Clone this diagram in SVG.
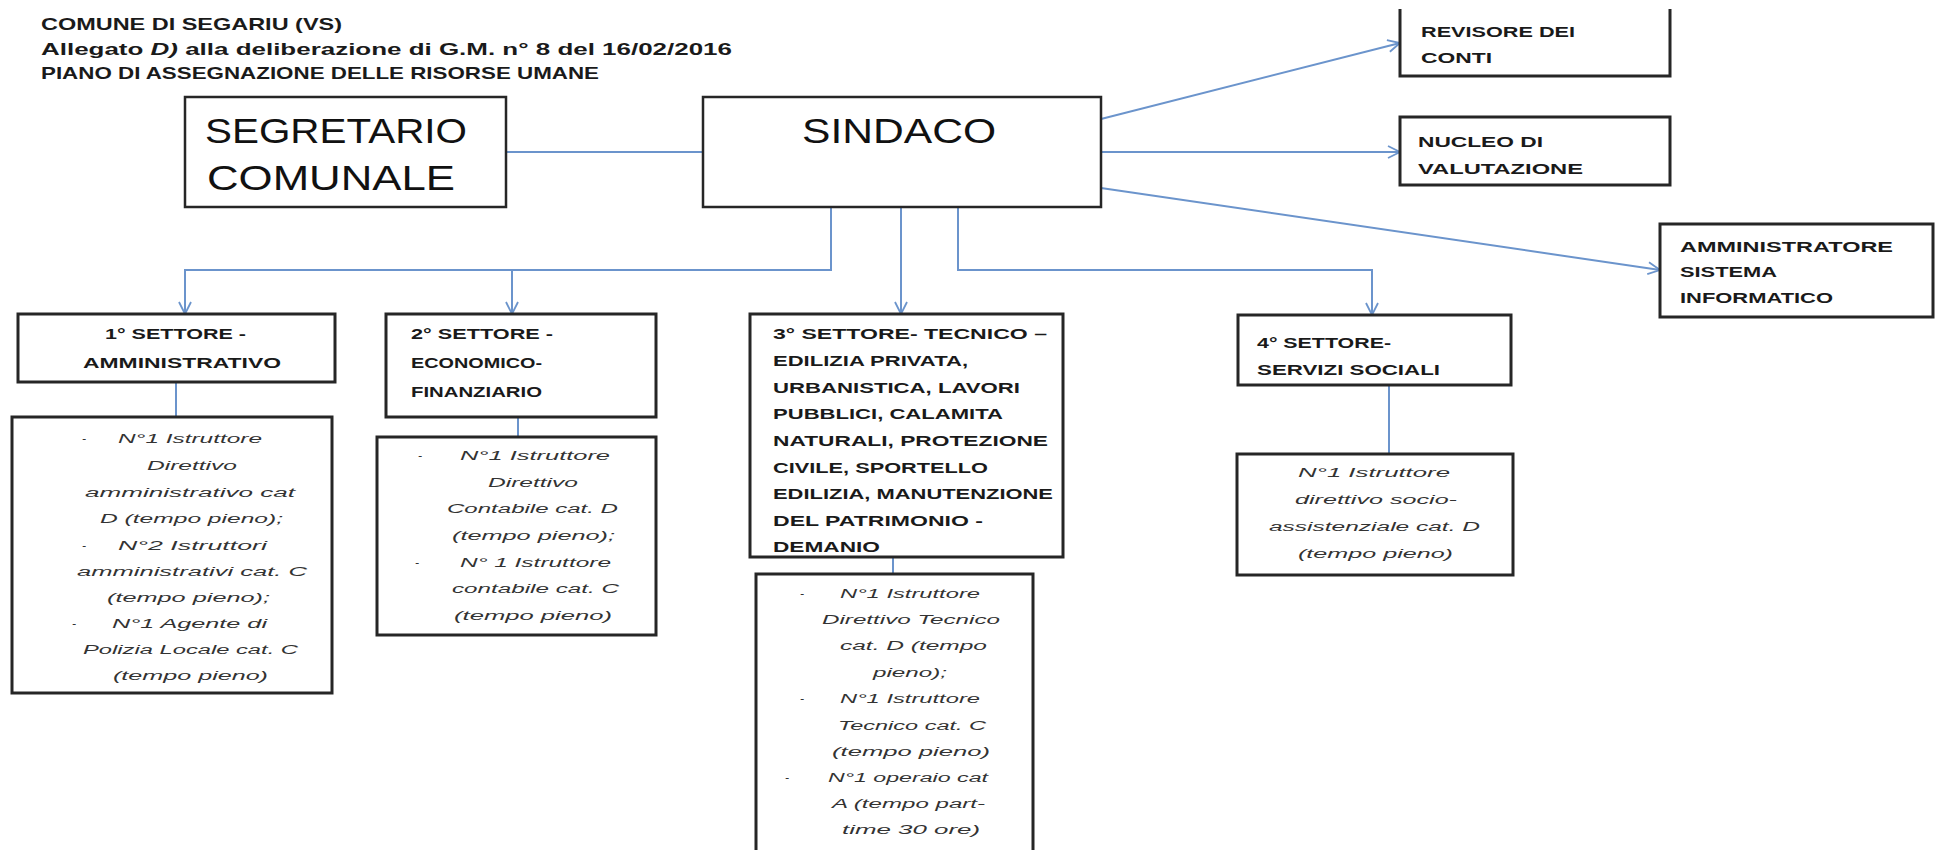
<svg xmlns="http://www.w3.org/2000/svg" width="1937" height="850" viewBox="0 0 1937 850">
<defs>
<style>
.box{fill:#fff;stroke:#262626;stroke-width:2.5}
.sbox{fill:#fff;stroke:#262626;stroke-width:3}
.ob{fill:none;stroke:#262626;stroke-width:3}
.con{fill:none;stroke:#6b94cc;stroke-width:2}
.arr{marker-end:url(#ah)}
.title{font-family:"Liberation Sans",Arial,sans-serif;font-weight:bold;font-size:17px;fill:#1a1a1a}
.big{font-family:"Liberation Sans",Arial,sans-serif;font-size:35px;fill:#111}
.lab{font-family:"Liberation Sans",Arial,sans-serif;font-weight:bold;font-size:15px;fill:#1a1a1a}
.lab3{font-family:"Liberation Sans",Arial,sans-serif;font-weight:bold;font-size:14px;fill:#1a1a1a}
.det{font-family:"Liberation Sans",Arial,sans-serif;font-style:italic;font-size:12px;fill:#333}
</style>
<marker id="ah" markerUnits="userSpaceOnUse" markerWidth="14" markerHeight="14" viewBox="0 0 14 14" refX="13" refY="7" orient="auto">
<path d="M1,1 L13,7 L1,13" fill="none" stroke="#6b94cc" stroke-width="1.8"/>
</marker>
</defs>
<rect width="1937" height="850" fill="#fff"/>

<g id="header">
<text class="title" x="41" y="30" textLength="301" lengthAdjust="spacingAndGlyphs">COMUNE DI SEGARIU  (VS)</text>
<text class="title" x="41" y="55" textLength="691" lengthAdjust="spacingAndGlyphs">Allegato <tspan font-style="italic">D)</tspan> alla deliberazione  di G.M. n° 8 del  16/02/2016</text>
<text class="title" x="41" y="79" textLength="558" lengthAdjust="spacingAndGlyphs">PIANO DI ASSEGNAZIONE DELLE RISORSE UMANE</text>
</g>

<g id="connectors">
<path class="con" d="M506,152 H703"/>
<path class="con arr" d="M1101,119 L1400,43"/>
<path class="con arr" d="M1101,152 H1400"/>
<path class="con arr" d="M1101,188 L1660,270"/>
<path class="con arr" d="M831,207 V270 H185 V314"/>
<path class="con arr" d="M512,270 V314"/>
<path class="con arr" d="M901,207 V314"/>
<path class="con arr" d="M958,207 V270 H1372 V315"/>
<path class="con" d="M176,382 V417"/>
<path class="con" d="M518,417 V437"/>
<path class="con" d="M893,557 V574"/>
<path class="con" d="M1389,385 V454"/>
</g>

<g id="segretario">
<rect class="box" x="185" y="97" width="321" height="110"/>
<text class="big" x="205" y="143" textLength="262" lengthAdjust="spacingAndGlyphs">SEGRETARIO</text>
<text class="big" x="207" y="190" textLength="248" lengthAdjust="spacingAndGlyphs">COMUNALE</text>
</g>

<g id="sindaco">
<rect class="box" x="703" y="97" width="398" height="110"/>
<text class="big" x="802" y="143" textLength="194" lengthAdjust="spacingAndGlyphs">SINDACO</text>
</g>

<g id="revisore">
<path class="ob" d="M1400,9 V76 H1670 V9"/>
<text class="lab" x="1421" y="37" textLength="154" lengthAdjust="spacingAndGlyphs">REVISORE DEI</text>
<text class="lab" x="1421" y="63" textLength="71" lengthAdjust="spacingAndGlyphs">CONTI</text>
</g>

<g id="nucleo">
<rect class="sbox" x="1400" y="117" width="270" height="68"/>
<text class="lab" x="1418" y="147" textLength="125" lengthAdjust="spacingAndGlyphs">NUCLEO DI</text>
<text class="lab" x="1418" y="174" textLength="165" lengthAdjust="spacingAndGlyphs">VALUTAZIONE</text>
</g>

<g id="amministratore">
<rect class="sbox" x="1660" y="224" width="273" height="93"/>
<text class="lab" x="1680" y="252" textLength="213" lengthAdjust="spacingAndGlyphs">AMMINISTRATORE</text>
<text class="lab" x="1680" y="277" textLength="97" lengthAdjust="spacingAndGlyphs">SISTEMA</text>
<text class="lab" x="1680" y="303" textLength="153" lengthAdjust="spacingAndGlyphs">INFORMATICO</text>
</g>

<g id="settore1">
<rect class="sbox" x="18" y="314" width="317" height="68"/>
<text class="lab" x="105" y="339" textLength="141" lengthAdjust="spacingAndGlyphs">1° SETTORE  -</text>
<text class="lab" x="83" y="368" textLength="198" lengthAdjust="spacingAndGlyphs">AMMINISTRATIVO</text>
</g>

<g id="settore2">
<rect class="sbox" x="386" y="314" width="270" height="103"/>
<text class="lab" x="411" y="339" textLength="142" lengthAdjust="spacingAndGlyphs">2° SETTORE  -</text>
<text class="lab" x="411" y="368" textLength="131" lengthAdjust="spacingAndGlyphs">ECONOMICO-</text>
<text class="lab" x="411" y="397" textLength="131" lengthAdjust="spacingAndGlyphs">FINANZIARIO</text>
</g>

<g id="settore3">
<rect class="sbox" x="750" y="314" width="313" height="243"/>
<text class="lab3" x="773" y="339" textLength="274" lengthAdjust="spacingAndGlyphs">3° SETTORE-   TECNICO –</text>
<text class="lab3" x="773" y="366" textLength="195" lengthAdjust="spacingAndGlyphs">EDILIZIA PRIVATA,</text>
<text class="lab3" x="773" y="393" textLength="247" lengthAdjust="spacingAndGlyphs">URBANISTICA, LAVORI</text>
<text class="lab3" x="773" y="419" textLength="230" lengthAdjust="spacingAndGlyphs">PUBBLICI, CALAMITA</text>
<text class="lab3" x="773" y="446" textLength="275" lengthAdjust="spacingAndGlyphs">NATURALI, PROTEZIONE</text>
<text class="lab3" x="773" y="473" textLength="215" lengthAdjust="spacingAndGlyphs">CIVILE, SPORTELLO</text>
<text class="lab3" x="773" y="499" textLength="280" lengthAdjust="spacingAndGlyphs">EDILIZIA, MANUTENZIONE</text>
<text class="lab3" x="773" y="526" textLength="210" lengthAdjust="spacingAndGlyphs">DEL PATRIMONIO  -</text>
<text class="lab3" x="773" y="552" textLength="107" lengthAdjust="spacingAndGlyphs">DEMANIO</text>
</g>

<g id="settore4">
<rect class="sbox" x="1238" y="315" width="273" height="70"/>
<text class="lab" x="1257" y="348" textLength="134" lengthAdjust="spacingAndGlyphs">4° SETTORE-</text>
<text class="lab" x="1257" y="375" textLength="183" lengthAdjust="spacingAndGlyphs">SERVIZI SOCIALI</text>
</g>

<g id="personale1">
<rect class="sbox" x="12" y="417" width="320" height="276"/>
<text class="det" x="82" y="443">-</text>
<text class="det" x="118" y="443" textLength="144" lengthAdjust="spacingAndGlyphs">N°1 Istruttore</text>
<text class="det" x="147" y="470" textLength="90" lengthAdjust="spacingAndGlyphs">Direttivo</text>
<text class="det" x="85" y="497" textLength="210" lengthAdjust="spacingAndGlyphs">amministrativo cat</text>
<text class="det" x="100" y="523" textLength="183" lengthAdjust="spacingAndGlyphs">D (tempo pieno);</text>
<text class="det" x="82" y="550">-</text>
<text class="det" x="118" y="550" textLength="149" lengthAdjust="spacingAndGlyphs">N°2 Istruttori</text>
<text class="det" x="77" y="576" textLength="230" lengthAdjust="spacingAndGlyphs">amministrativi  cat. C</text>
<text class="det" x="107" y="602" textLength="163" lengthAdjust="spacingAndGlyphs">(tempo pieno);</text>
<text class="det" x="72" y="628">-</text>
<text class="det" x="112" y="628" textLength="155" lengthAdjust="spacingAndGlyphs">N°1 Agente di</text>
<text class="det" x="83" y="654" textLength="215" lengthAdjust="spacingAndGlyphs">Polizia Locale cat. C</text>
<text class="det" x="113" y="680" textLength="155" lengthAdjust="spacingAndGlyphs">(tempo pieno)</text>
</g>

<g id="personale2">
<rect class="sbox" x="377" y="437" width="279" height="198"/>
<text class="det" x="418" y="460">-</text>
<text class="det" x="460" y="460" textLength="150" lengthAdjust="spacingAndGlyphs">N°1 Istruttore</text>
<text class="det" x="488" y="487" textLength="90" lengthAdjust="spacingAndGlyphs">Direttivo</text>
<text class="det" x="447" y="513" textLength="171" lengthAdjust="spacingAndGlyphs">Contabile cat. D</text>
<text class="det" x="452" y="540" textLength="163" lengthAdjust="spacingAndGlyphs">(tempo pieno);</text>
<text class="det" x="415" y="567">-</text>
<text class="det" x="460" y="567" textLength="151" lengthAdjust="spacingAndGlyphs">N° 1 Istruttore</text>
<text class="det" x="452" y="593" textLength="167" lengthAdjust="spacingAndGlyphs">contabile cat. C</text>
<text class="det" x="454" y="620" textLength="158" lengthAdjust="spacingAndGlyphs">(tempo pieno)</text>
</g>

<g id="personale3">
<path class="ob" d="M756,852 V574 H1033 V852" fill="#fff"/>
<text class="det" x="800" y="598">-</text>
<text class="det" x="840" y="598" textLength="140" lengthAdjust="spacingAndGlyphs">N°1 Istruttore</text>
<text class="det" x="822" y="624" textLength="178" lengthAdjust="spacingAndGlyphs">Direttivo Tecnico</text>
<text class="det" x="840" y="650" textLength="147" lengthAdjust="spacingAndGlyphs">cat. D (tempo</text>
<text class="det" x="873" y="677" textLength="74" lengthAdjust="spacingAndGlyphs">pieno);</text>
<text class="det" x="800" y="703">-</text>
<text class="det" x="840" y="703" textLength="140" lengthAdjust="spacingAndGlyphs">N°1 Istruttore</text>
<text class="det" x="838" y="730" textLength="148" lengthAdjust="spacingAndGlyphs">Tecnico cat. C</text>
<text class="det" x="832" y="756" textLength="158" lengthAdjust="spacingAndGlyphs">(tempo pieno)</text>
<text class="det" x="785" y="782">-</text>
<text class="det" x="828" y="782" textLength="160" lengthAdjust="spacingAndGlyphs">N°1 operaio cat</text>
<text class="det" x="832" y="808" textLength="153" lengthAdjust="spacingAndGlyphs">A (tempo part-</text>
<text class="det" x="842" y="834" textLength="138" lengthAdjust="spacingAndGlyphs">time 30 ore)</text>
</g>

<g id="personale4">
<rect class="sbox" x="1237" y="454" width="276" height="121"/>
<text class="det" x="1298" y="477" textLength="152" lengthAdjust="spacingAndGlyphs">N°1 Istruttore</text>
<text class="det" x="1295" y="504" textLength="162" lengthAdjust="spacingAndGlyphs">direttivo socio-</text>
<text class="det" x="1269" y="531" textLength="211" lengthAdjust="spacingAndGlyphs">assistenziale cat. D</text>
<text class="det" x="1298" y="558" textLength="155" lengthAdjust="spacingAndGlyphs">(tempo pieno)</text>
</g>
</svg>
